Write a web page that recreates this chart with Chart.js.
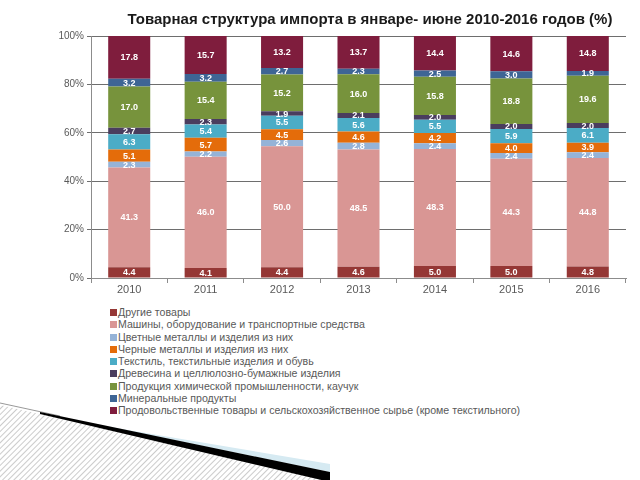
<!DOCTYPE html>
<html>
<head>
<meta charset="utf-8">
<script src="https://cdn.jsdelivr.net/npm/chart.js@4/dist/chart.umd.min.js"></script>
<style>
  body { margin: 0; background: #fff; font-family: "Liberation Sans", Arial, sans-serif; }
  #wrap { position: relative; width: 640px; height: 480px; overflow: hidden; }
  #title { position: absolute; left: 0; top: 10px; width: 740px; text-align: center;
           font-weight: bold; font-size: 15px; color: #1a1a1a; }
  #chart { position: absolute; left: 0; top: 0; }
  #legend { position: absolute; left: 110px; top: 306px; font-size: 10.6px; color: #595959; }
  #legend div { height: 12.25px; line-height: 12.25px; white-space: nowrap; }
  #legend span { display: inline-block; width: 7px; height: 7px; margin-right: 1px; vertical-align: 0px; }
  #deco { position: absolute; left: 0; top: 380px; }
</style>
</head>
<body>
<div id="wrap">
  <canvas id="chart" width="640" height="300"></canvas>
  <div id="title">Товарная структура импорта в январе- июне 2010-2016 годов (%)</div>
  <div id="legend"></div>
  <svg id="deco" width="360" height="100">
    <defs>
      <pattern id="hatch" width="4" height="4" patternUnits="userSpaceOnUse" patternTransform="rotate(45)">
        <line x1="0" y1="0" x2="0" y2="4" stroke="#b5b5b5" stroke-width="1.4"/>
      </pattern>
    </defs>
    <polygon points="0,25 330,100 0,100" fill="url(#hatch)"/>
    <line x1="0" y1="23" x2="60" y2="36" stroke="#999" stroke-width="1"/>
    <polygon points="110,47 330,84 330,92" fill="#d6eaf2"/>
    <polygon points="40,32 330,92 330,102 40,34" fill="#000"/>
  </svg>
</div>
<script>
// === Data ===
const years = ['2010', '2011', '2012', '2013', '2014', '2015', '2016'];
const otherGoods = [4.4, 4.1, 4.4, 4.6, 5.0, 5.0, 4.8];
const machinery = [41.3, 46.0, 50.0, 48.5, 48.3, 44.3, 44.8];
const nonFerrous = [2.3, 2.2, 2.6, 2.8, 2.4, 2.4, 2.4];
const ferrous = [5.1, 5.7, 4.5, 4.6, 4.2, 4.0, 3.9];
const textiles = [6.3, 5.4, 5.5, 5.6, 5.5, 5.9, 6.1];
const wood = [2.7, 2.3, 1.9, 2.1, 2.0, 2.0, 2.0];
const chemicals = [17.0, 15.4, 15.2, 16.0, 15.8, 18.8, 19.6];
const minerals = [3.2, 3.2, 2.7, 2.3, 2.5, 3.0, 1.9];
const food = [17.8, 15.7, 13.2, 13.7, 14.4, 14.6, 14.8];
const yTicks = [0, 20, 40, 60, 80, 100];

const series = [
  { label: 'Другие товары', data: otherGoods, color: '#953735' },
  { label: 'Машины, оборудование и транспортные средства', data: machinery, color: '#d99694' },
  { label: 'Цветные металлы и изделия из них', data: nonFerrous, color: '#95b3d7' },
  { label: 'Черные металлы и изделия из них', data: ferrous, color: '#e46c0a' },
  { label: 'Текстиль, текстильные изделия и обувь', data: textiles, color: '#4bacc6' },
  { label: 'Древесина и целлюлозно-бумажные изделия', data: wood, color: '#4a3d5e' },
  { label: 'Продукция химической промышленности, каучук', data: chemicals, color: '#77933c' },
  { label: 'Минеральные продукты', data: minerals, color: '#3e6595' },
  { label: 'Продовольственные товары и сельскохозяйственное сырье (кроме текстильного)', data: food, color: '#7f1d3d' }
];

// === Value labels inside segments ===
const segmentLabels = {
  id: 'segmentLabels',
  afterDatasetsDraw(chart) {
    const ctx = chart.ctx;
    ctx.save();
    ctx.font = 'bold 9px "Liberation Sans", Arial, sans-serif';
    ctx.fillStyle = '#ffffff';
    ctx.textAlign = 'center';
    ctx.textBaseline = 'middle';
    chart.data.datasets.forEach((ds, i) => {
      chart.getDatasetMeta(i).data.forEach((bar, j) => {
        const y = (bar.y + bar.base) / 2;
        ctx.fillText(ds.data[j].toFixed(1), bar.x, y + 0.5);
      });
    });
    ctx.restore();
  }
};

const chart = new Chart(document.getElementById('chart'), {
  type: 'bar',
  data: {
    labels: years,
    datasets: series.map(s => ({
      label: s.label,
      data: s.data,
      backgroundColor: s.color,
      borderWidth: 0,
      barPercentage: 0.55,
      categoryPercentage: 1
    }))
  },
  options: {
    responsive: false,
    animation: false,
    layout: { padding: { top: 36, right: 14, left: 0, bottom: 0 } },
    plugins: {
      legend: { display: false },
      title: { display: false },
      tooltip: { enabled: false }
    },
    scales: {
      x: {
        stacked: true,
        afterFit(scale) { scale.height = 22; },
        grid: { offset: true, drawOnChartArea: false, color: '#8c8c8c', tickLength: 5 },
        border: { color: '#8c8c8c' },
        ticks: { color: '#595959', padding: 0, font: { size: 11, family: '"Liberation Sans", Arial' } }
      },
      y: {
        stacked: true,
        min: 0,
        max: 100,
        afterFit(scale) { scale.width = 91; },
        afterBuildTicks(scale) { scale.ticks = yTicks.map(v => ({ value: v })); },
        grid: { color: '#6e6e6e', tickLength: 4 },
        border: { color: '#8c8c8c' },
        ticks: {
          color: '#595959',
          padding: 3,
          font: { size: 10, family: '"Liberation Sans", Arial' },
          callback: v => v + '%'
        }
      }
    }
  },
  plugins: [segmentLabels]
});

// === HTML legend, one item per line ===
const legend = document.getElementById('legend');
chart.data.datasets.forEach(ds => {
  const row = document.createElement('div');
  const box = document.createElement('span');
  box.style.background = ds.backgroundColor;
  row.appendChild(box);
  row.appendChild(document.createTextNode(ds.label));
  legend.appendChild(row);
});
</script>
</body>
</html>
